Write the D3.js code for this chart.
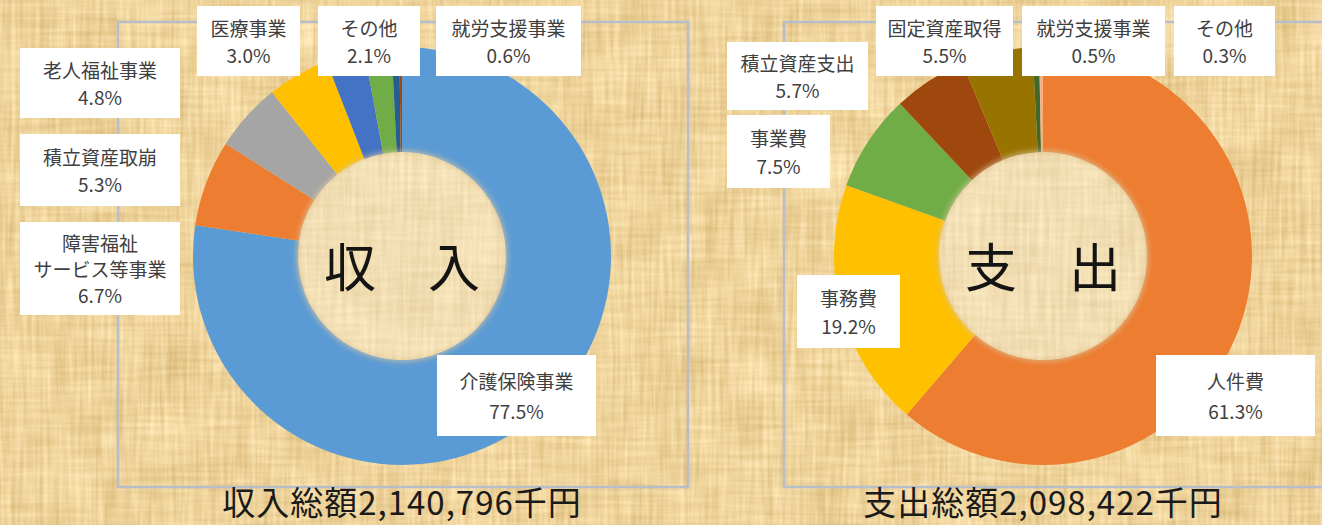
<!DOCTYPE html>
<html>
<head>
<meta charset="utf-8">
<script src="https://cdn.jsdelivr.net/npm/d3@7"></script>
<style>
  html, body { margin: 0; padding: 0; background: #ecd29b; }
  svg { display: block; }
  text { font-family: "Noto Sans CJK JP", "Noto Sans", sans-serif; }
</style>
</head>
<body>
<div id="chart"></div>
<script>
// 収入 (income)
const incomeCategories = ["介護保険事業", "障害福祉\nサービス等事業", "積立資産取崩", "老人福祉事業", "医療事業", "その他", "就労支援事業", ""];
const incomeValues = [77.5, 6.7, 5.3, 4.8, 3.0, 2.1, 0.6, 0.2];
const incomeTotal = "2,140,796";

// 支出 (expense)
const expenseCategories = ["人件費", "事務費", "事業費", "積立資産支出", "固定資産取得", "就労支援事業", "その他"];
const expenseValues = [61.3, 19.2, 7.5, 5.7, 5.5, 0.5, 0.3];
const expenseTotal = "2,098,422";

// colours
const incomeColors = ["#5B9BD5", "#ED7D31", "#A5A5A5", "#FFC000", "#4472C4", "#70AD47", "#255E91", "#9E480E"];
const expenseColors = ["#ED7D31", "#FFC000", "#70AD47", "#9E480E", "#997300", "#43682B", "#F4B183"];

// label box layout [x, y, w, h]
const incomeBoxes = [[437, 355, 159, 81], [20, 222, 160, 93], [20, 134, 160, 72], [20, 48, 160, 70],
                     [197, 6, 103, 70], [318, 6, 102, 70], [436, 6, 145, 70], null];
const expenseBoxes = [[1156, 355, 159, 81], [797, 275, 103, 73], [727, 115, 103, 73], [727, 42, 141, 68],
                      [876, 6, 137, 70], [1022, 6, 143, 70], [1174, 6, 101, 70]];

const width = 1322, height = 525;
const outerR = 209, innerR = 104;

const svg = d3.select("#chart")
  .append("svg")
    .attr("width", width)
    .attr("height", height);

// paper texture background
const defs = svg.append("defs");
const paper = defs.append("filter")
  .attr("id", "paper")
  .attr("x", 0).attr("y", 0).attr("width", "100%").attr("height", "100%")
  .attr("color-interpolation-filters", "sRGB");
paper.append("feTurbulence").attr("type", "fractalNoise").attr("baseFrequency", "0.25 0.015")
  .attr("numOctaves", 2).attr("seed", 4).attr("result", "v0");
paper.append("feColorMatrix").attr("in", "v0").attr("type", "matrix")
  .attr("values", "1 0 0 0 0  1 0 0 0 0  1 0 0 0 0  0 0 0 0 1").attr("result", "v");
paper.append("feTurbulence").attr("type", "fractalNoise").attr("baseFrequency", "0.015 0.22")
  .attr("numOctaves", 2).attr("seed", 9).attr("result", "h0");
paper.append("feColorMatrix").attr("in", "h0").attr("type", "matrix")
  .attr("values", "1 0 0 0 0  1 0 0 0 0  1 0 0 0 0  0 0 0 0 1").attr("result", "h");
paper.append("feTurbulence").attr("type", "fractalNoise").attr("baseFrequency", "0.02")
  .attr("numOctaves", 2).attr("seed", 2).attr("result", "b0");
paper.append("feColorMatrix").attr("in", "b0").attr("type", "matrix")
  .attr("values", "1 0 0 0 0  1 0 0 0 0  1 0 0 0 0  0 0 0 0 1").attr("result", "b");
paper.append("feComposite").attr("in", "v").attr("in2", "h").attr("operator", "arithmetic")
  .attr("k2", 0.6).attr("k3", 0.4).attr("result", "vh");
paper.append("feComposite").attr("in", "vh").attr("in2", "b").attr("operator", "arithmetic")
  .attr("k2", 0.75).attr("k3", 0.25).attr("result", "n");
paper.append("feColorMatrix").attr("in", "n").attr("type", "matrix")
  .attr("values", "0.3 0 0 0 0.785  0.38 0 0 0 0.64  0.5 0 0 0 0.36  0 0 0 0 1");

svg.append("rect")
  .attr("width", width)
  .attr("height", height)
  .attr("fill", "#ecd29b")
  .attr("filter", "url(#paper)");

const soft = defs.append("filter").attr("id", "soft")
  .attr("x", "-20%").attr("y", "-20%").attr("width", "140%").attr("height", "140%");
soft.append("feGaussianBlur").attr("stdDeviation", 2.5);

function drawChart(cx, categories, values, colors, boxes, title, totalLabel, frame) {
  const g = svg.append("g");

  // plot area frame
  g.append("rect")
    .attr("x", frame[0]).attr("y", frame[1])
    .attr("width", frame[2]).attr("height", frame[3])
    .attr("fill", "none")
    .attr("stroke", "#b8bdca")
    .attr("stroke-width", 2.5);

  const cy = 256;
  const pie = d3.pie().sort(null).value(d => d)(values);
  const arc = d3.arc().innerRadius(innerR).outerRadius(outerR);

  const donut = g.append("g").attr("transform", `translate(${cx},${cy})`);
  donut.selectAll("path")
    .data(pie)
    .join("path")
      .attr("d", arc)
      .attr("fill", (d, i) => colors[i]);

  // lighter hole with soft edge
  donut.append("circle")
    .attr("r", innerR + 1)
    .attr("fill", "rgba(248,238,214,0.4)")
    .attr("stroke", "rgba(205,178,125,0.5)")
    .attr("stroke-width", 3)
    .attr("filter", "url(#soft)");

  donut.append("text")
    .attr("y", 8)
    .attr("text-anchor", "middle")
    .attr("dominant-baseline", "central")
    .attr("font-size", 52)
    .attr("fill", "#141414")
    .text(title);

  // data labels
  const fmt = d3.format(".1f");
  pie.forEach((d, i) => {
    const b = boxes[i];
    if (!b || !categories[i]) return;
    const lines = categories[i].split("\n").concat(fmt(values[i]) + "%");
    const lab = g.append("g");
    lab.append("rect")
      .attr("x", b[0]).attr("y", b[1])
      .attr("width", b[2]).attr("height", b[3])
      .attr("fill", "#ffffff");
    const gap = lines.length === 3 ? 26 : Math.max(27, b[3] * 0.38);
    const mid = b[1] + b[3] / 2;
    lines.forEach((t, k) => {
      lab.append("text")
        .attr("x", b[0] + b[2] / 2)
        .attr("y", mid + (k - (lines.length - 1) / 2) * gap)
        .attr("text-anchor", "middle")
        .attr("dominant-baseline", "central")
        .attr("font-size", 19)
        .attr("fill", "#404040")
        .text(t);
    });
  });

  // total under the chart
  g.append("text")
    .attr("x", cx)
    .attr("y", 515)
    .attr("text-anchor", "middle")
    .attr("font-size", 33)
    .attr("letter-spacing", 1)
    .attr("fill", "#1a1a1a")
    .text(totalLabel);
}

drawChart(402, incomeCategories, incomeValues, incomeColors, incomeBoxes,
  "収　入", "収入総額" + incomeTotal + "千円", [118, 22, 570, 465]);
drawChart(1043, expenseCategories, expenseValues, expenseColors, expenseBoxes,
  "支　出", "支出総額" + expenseTotal + "千円", [784, 22, 560, 465]);
</script>
</body>
</html>
